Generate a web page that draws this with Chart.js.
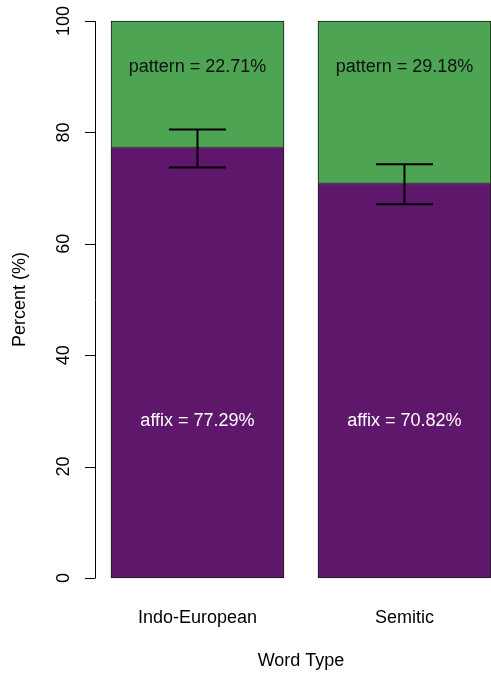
<!DOCTYPE html>
<html>
<head>
<meta charset="utf-8">
<script src="https://cdn.jsdelivr.net/npm/chart.js@4"></script>
<style>
  html, body { margin: 0; padding: 0; background: #ffffff; overflow: hidden; }
  #wrap { width: 491px; height: 675px; }
</style>
</head>
<body>
<div id="wrap"><canvas id="c" width="491" height="675"></canvas></div>
<script>
const categories = ["Indo-European", "Semitic"];
const affixValues = [77.29, 70.82];
const patternValues = [22.71, 29.18];
const errLow = [73.7, 67.1];
const errHigh = [80.5, 74.3];
const yTicks = [0, 20, 40, 60, 80, 100];
const xTitle = "Word Type";
const yTitle = "Percent (%)";

const FONT = '18px "Liberation Sans", Arial, sans-serif';

const overlay = {
  id: 'overlay',
  afterDatasetsDraw(chart) {
    const ctx = chart.ctx;
    const xs = chart.scales.x, ys = chart.scales.y;
    const ca = chart.chartArea;
    ctx.save();
    // error bars
    ctx.strokeStyle = '#000';
    ctx.lineWidth = 2;
    categories.forEach((c, i) => {
      const x = xs.getPixelForValue(i);
      const y1 = ys.getPixelForValue(errLow[i]);
      const y2 = ys.getPixelForValue(errHigh[i]);
      const half = 28.5;
      ctx.beginPath();
      ctx.moveTo(x, y1); ctx.lineTo(x, y2);
      ctx.moveTo(x - half, y1); ctx.lineTo(x + half, y1);
      ctx.moveTo(x - half, y2); ctx.lineTo(x + half, y2);
      ctx.stroke();
    });
    // bar labels
    ctx.font = FONT;
    ctx.textAlign = 'center';
    ctx.textBaseline = 'middle';
    categories.forEach((c, i) => {
      const x = xs.getPixelForValue(i);
      ctx.fillStyle = '#111';
      ctx.fillText('pattern = ' + patternValues[i].toFixed(2) + '%', x, ys.getPixelForValue(91.75));
      ctx.fillStyle = '#ffffff';
      ctx.fillText('affix = ' + affixValues[i].toFixed(2) + '%', x, ys.getPixelForValue(28.2));
    });
    // y axis
    ctx.strokeStyle = '#000';
    ctx.lineWidth = 1;
    const axX = 95.5;
    ctx.beginPath();
    ctx.moveTo(axX, ys.getPixelForValue(0));
    ctx.lineTo(axX, ys.getPixelForValue(100));
    yTicks.forEach(t => {
      const y = Math.round(ys.getPixelForValue(t)) + 0.5;
      ctx.moveTo(axX, y); ctx.lineTo(85, y);
    });
    ctx.stroke();
    ctx.fillStyle = '#000';
    yTicks.forEach(t => {
      const y = ys.getPixelForValue(t);
      ctx.save();
      ctx.translate(64, y);
      ctx.rotate(-Math.PI / 2);
      ctx.fillText(String(t), 0, 0);
      ctx.restore();
    });
    // x category labels
    categories.forEach((c, i) => {
      ctx.fillText(c, xs.getPixelForValue(i), 618);
    });
    // axis titles
    ctx.fillText(xTitle, 301, 661);
    ctx.save();
    ctx.translate(20, (ca.top + ca.bottom) / 2);
    ctx.rotate(-Math.PI / 2);
    ctx.fillText(yTitle, 0, 0);
    ctx.restore();
    ctx.restore();
  }
};

new Chart(document.getElementById('c'), {
  type: 'bar',
  data: {
    datasets: [
      { label: 'affix', data: affixValues.map((v, i) => ({ x: i, y: v })), backgroundColor: '#5E176B', borderColor: '#1a1a1a', borderWidth: 1, borderSkipped: false },
      { label: 'pattern', data: patternValues.map((v, i) => ({ x: i, y: v })), backgroundColor: '#4DA452', borderColor: '#1a1a1a', borderWidth: 1, borderSkipped: false }
    ]
  },
  options: {
    responsive: false,
    animation: false,
    devicePixelRatio: 1,
    layout: { padding: { left: 94, right: 0, top: 21, bottom: 97 } },
    datasets: { bar: { barThickness: 173, clip: false } },
    plugins: { legend: { display: false }, tooltip: { enabled: false } },
    scales: {
      x: { type: 'linear', stacked: true, display: false, offset: false, min: -0.5, max: 1.418 },
      y: { stacked: true, display: false, min: 0, max: 100 }
    }
  },
  plugins: [overlay]
});
</script>
</body>
</html>
